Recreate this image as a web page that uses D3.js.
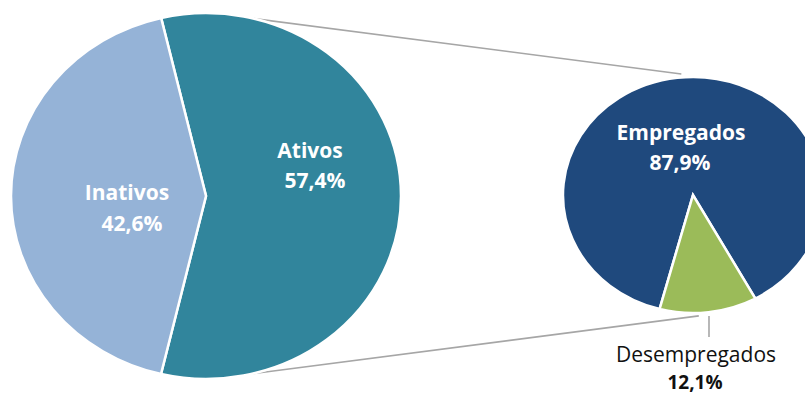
<!DOCTYPE html>
<html>
<head>
<meta charset="utf-8">
<script src="https://cdn.jsdelivr.net/npm/d3@7"></script>
<style>
  html, body { margin: 0; padding: 0; background: #ffffff; }
  svg { display: block; }
</style>
</head>
<body>
<svg id="chart" width="805" height="396"></svg>
<script>
// Main split of the population
const mainCategories = ["Ativos", "Inativos"];
const mainValues = [57.4, 42.6];
const mainColors = ["#31859c", "#95b3d7"];

// Breakdown of the "Ativos" share
const subCategories = ["Empregados", "Desempregados"];
const subValues = [87.9, 12.1];
const subColors = ["#1f497d", "#9bbb59"];

const fmt = v => d3.format(".1f")(v).replace(".", ",") + "%";
const deg = a => a * Math.PI / 180;

const svg = d3.select("#chart");

// Both pies are slightly wider than tall
const big = { cx: 206, cy: 196, rx: 195, ry: 183, start: -13.3 };
const small = { cx: 693, cy: 195, rx: 130, ry: 118, start: -165.1 };

function pointOn(p, angleDeg, k) {
  const a = deg(angleDeg);
  return [p.cx + Math.sin(a) * p.rx * k, p.cy - Math.cos(a) * p.ry * k];
}

// Connector lines between the two pies
const connectors = [
  [pointOn(big, 14.2, 1.0), pointOn(small, -5, 1.03)],
  [pointOn(big, 166.3, 1.0), pointOn(small, 177.5, 1.025)]
];
svg.append("g")
  .selectAll("line")
  .data(connectors)
  .join("line")
  .attr("x1", d => d[0][0]).attr("y1", d => d[0][1])
  .attr("x2", d => d[1][0]).attr("y2", d => d[1][1])
  .attr("stroke", "#a6a6a6")
  .attr("stroke-width", 1.6);

function drawPie(p, values, colors) {
  const pie = d3.pie().sort(null)
    .startAngle(deg(p.start))
    .endAngle(deg(p.start) + 2 * Math.PI);
  const arc = d3.arc().innerRadius(0).outerRadius(p.rx);
  const g = svg.append("g")
    .attr("transform", `translate(${p.cx},${p.cy}) scale(1,${p.ry / p.rx})`);
  g.selectAll("path")
    .data(pie(values))
    .join("path")
    .attr("d", arc)
    .attr("fill", (d, i) => colors[i])
    .attr("stroke", "#ffffff")
    .attr("stroke-width", 2.5)
    .attr("stroke-linejoin", "miter")
    .attr("vector-effect", "non-scaling-stroke");
}

drawPie(big, mainValues, mainColors);
drawPie(small, subValues, subColors);

// Labels inside the slices
const insideLabels = [
  { name: mainCategories[1], value: mainValues[1], x: 127, y: 200, vx: 132, vy: 231 },
  { name: mainCategories[0], value: mainValues[0], x: 310, y: 158, vx: 315, vy: 188 },
  { name: subCategories[0], value: subValues[0], x: 681, y: 140, vx: 680, vy: 170 }
];
const lab = svg.append("g")
  .attr("font-family", "'Open Sans', sans-serif")
  .attr("font-weight", 700)
  .attr("font-size", 21)
  .attr("fill", "#ffffff")
  .attr("text-anchor", "middle");
insideLabels.forEach(l => {
  lab.append("text").attr("x", l.x).attr("y", l.y).text(l.name);
  lab.append("text").attr("x", l.vx).attr("y", l.vy).text(fmt(l.value));
});

// Outside label with leader line for the small slice
svg.append("line")
  .attr("x1", 709).attr("y1", 316)
  .attr("x2", 709).attr("y2", 337)
  .attr("stroke", "#a6a6a6")
  .attr("stroke-width", 1.6);

const out = svg.append("g")
  .attr("font-family", "'Open Sans', sans-serif")
  .attr("fill", "#111111")
  .attr("text-anchor", "middle");
out.append("text").attr("x", 696).attr("y", 362).attr("font-size", 21).text(subCategories[1]);
out.append("text").attr("x", 695).attr("y", 389).attr("font-size", 19)
  .attr("font-weight", 700).text(fmt(subValues[1]));
</script>
</body>
</html>
